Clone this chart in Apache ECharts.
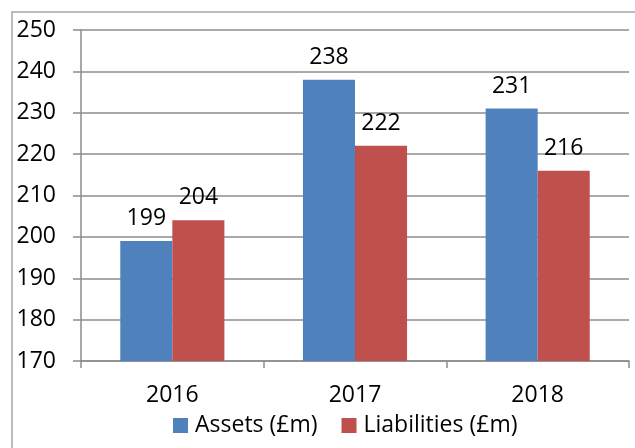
<!DOCTYPE html>
<html>
<head>
<meta charset="utf-8">
<script src="https://cdn.jsdelivr.net/npm/echarts@6/dist/echarts.min.js"></script>
<style>
  html, body { margin: 0; padding: 0; background: #fff; }
  #chart { width: 635px; height: 448px; }
</style>
</head>
<body>
<div id="chart"></div>
<script>
var years = ['2016', '2017', '2018'];
var assets = [199, 238, 231];
var liabilities = [204, 222, 216];
var seriesNames = ['Assets (£m)', 'Liabilities (£m)'];

var font = 'Open Sans, sans-serif';
var fontSize = 23;

var chart = echarts.init(document.getElementById('chart'));
var option = {
    animation: false,
    textStyle: {
        fontFamily: font
    },
    graphic: [
        {
            type: 'rect',
            shape: { x: 12, y: 12, width: 700, height: 500 },
            style: { fill: 'none', stroke: '#a6a6a6', lineWidth: 1.5 }
        }
    ],
    legend: {
        bottom: 6,
        left: 168,
        itemWidth: 15,
        itemHeight: 15,
        itemGap: 24,
        icon: 'rect',
        textStyle: {
            fontSize: fontSize,
            fontFamily: font,
            color: '#000',
            padding: [0, 0, 0, 2]
        },
        data: seriesNames
    },
    grid: {
        left: 81,
        right: 6,
        top: 30,
        bottom: 87
    },
    xAxis: {
        type: 'category',
        data: years,
        axisLine: { lineStyle: { color: '#8c8c8c', width: 1.5 } },
        axisTick: { show: true, length: 7, lineStyle: { color: '#8c8c8c', width: 1.5 } },
        axisLabel: {
            fontSize: fontSize,
            color: '#000',
            margin: 23
        }
    },
    yAxis: {
        type: 'value',
        min: 170,
        max: 250,
        interval: 10,
        axisLine: { show: true, lineStyle: { color: '#8c8c8c', width: 1.5 } },
        axisTick: { show: true, length: 8, lineStyle: { color: '#8c8c8c', width: 1.5 } },
        axisLabel: {
            fontSize: fontSize,
            color: '#000',
            margin: 25
        },
        splitLine: { lineStyle: { color: '#8c8c8c', width: 1.5 } }
    },
    series: [
        {
            name: seriesNames[0],
            type: 'bar',
            data: assets,
            barGap: '0%',
            barCategoryGap: '43%',
            itemStyle: { color: '#4F81BD' },
            label: {
                show: true,
                position: 'top',
                distance: 11,
                fontSize: fontSize,
                color: '#000'
            }
        },
        {
            name: seriesNames[1],
            type: 'bar',
            data: liabilities,
            itemStyle: { color: '#C0504D' },
            label: {
                show: true,
                position: 'top',
                distance: 11,
                fontSize: fontSize,
                color: '#000'
            }
        }
    ]
};
chart.setOption(option);

window.addEventListener('resize', function () {
    chart.resize();
});
</script>
</body>
</html>
